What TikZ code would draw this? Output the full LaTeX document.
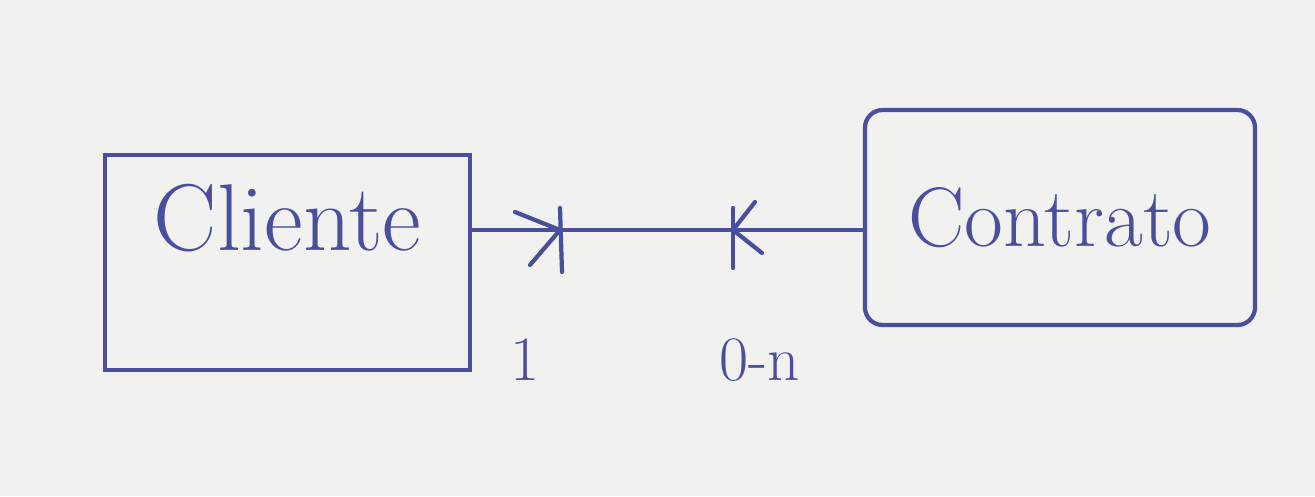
\documentclass[tikz,border=0pt]{standalone}
\usepackage{tikz}
\definecolor{InkBlue}{HTML}{4A4E9C}
\definecolor{PaperGray}{HTML}{F1F1EF}
\tikzset{
  entity/.style={draw=InkBlue,line width=1.2pt,text=InkBlue,font=\fontsize{24}{28}\selectfont,minimum height=2.15cm},
  ink/.style={InkBlue,line width=1.2pt,line cap=round},
  card/.style={text=InkBlue,font=\fontsize{18}{22}\selectfont}
}

\begin{document}
\begin{tikzpicture}
  \fill[PaperGray] (0,0) rectangle (13.15,4.96);
  \node[entity,minimum width=3.65cm,text depth=0.9cm,font=\fontsize{27}{30}\selectfont] (cliente) at (2.875,2.335) {Cliente};
  \node[entity,minimum width=3.9cm,rounded corners=5pt] (contrato) at (10.6,2.785) {Contrato};
  \coordinate (lnA) at (cliente.east |- 0,2.66); \coordinate (lnB) at (contrato.west |- 0,2.66);
  \draw[ink] (lnA) -- (lnB);
  % marks on the relation line
  \coordinate (mkA) at (5.6,2.66); \coordinate (mkB) at (7.33,2.66);
  \draw[ink] (mkA) ++(0,.22) -- ++(.02,-.64); \draw[ink] (5.15,2.84) -- (mkA) -- (5.3,2.31);
  \draw[ink] (mkB) ++(0,.22) -- ++(0,-.6); \draw[ink] (7.55,2.94) -- (mkB) -- (7.62,2.43);
  \node[card] (cardA) at (5.25,1.36) {1}; \node[card] (cardB) at (7.6,1.36) {0-n};
\end{tikzpicture}
\end{document}
